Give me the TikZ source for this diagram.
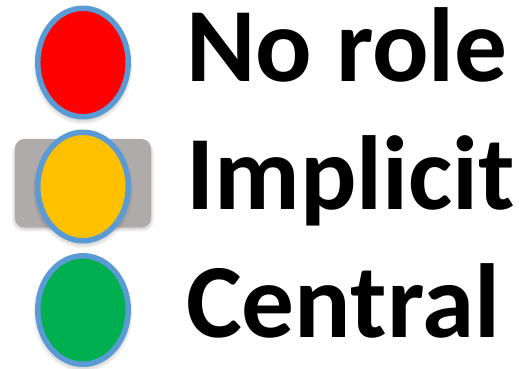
\documentclass[tikz,border=0pt]{standalone}
\usepackage{fontspec}
\setmainfont{Carlito}
\usetikzlibrary{shapes.geometric}
\definecolor{ringblue}{HTML}{5B9BD5}
\definecolor{plate}{HTML}{AFABAB}
\newlength{\pxu}\setlength{\pxu}{0.75pt}
\tikzset{
 lamp/.style={ellipse,draw=ringblue,line width=4.1pt,minimum width=90.5\pxu,minimum height=108.5\pxu,inner sep=0pt},
 lbl/.style={anchor=base west,inner sep=0pt,font=\bfseries\fontsize{79pt}{79pt}\selectfont}
}
\newcommand{\softoval}[2]{\foreach \k in {0,...,5}{\fill[black,opacity=0.035] (#1,#2+3) ellipse ({(47+3-\k*1.1)*0.75pt} and {(56+3-\k*1.1)*0.75pt});}}
\begin{document}
\begin{tikzpicture}[x=0.75pt,y=-0.75pt]
\useasboundingbox (0,0) rectangle (523,368);
\foreach \k in {0,...,5}{\fill[black,opacity=0.04,rounded corners=8pt] (15-3+\k*0.8,139+3) rectangle (151+3-\k*0.8,227.5+4-\k*0.8);}
\node[fill=plate,rounded corners=7pt,minimum width=136\pxu,minimum height=88.5\pxu,inner sep=0pt] (pl) at (83,183.2) {};
\softoval{83}{62.5}
\softoval{83}{186.5}
\softoval{83}{310}
\node[lamp,fill=red] (r) at (83,62.5) {};
\node[lamp,fill={rgb,255:red,255;green,192;blue,0}] (y) at (83,186.5) {};
\node[lamp,fill={rgb,255:red,0;green,176;blue,80}] (g) at (83,310) {};
\node[lbl] (t1) at (186,81) {No role};
\node[lbl] (t2) at (186,209) {Implicit};
\node[lbl] (t3) at (186,337) {Central};
\end{tikzpicture}
\end{document}
